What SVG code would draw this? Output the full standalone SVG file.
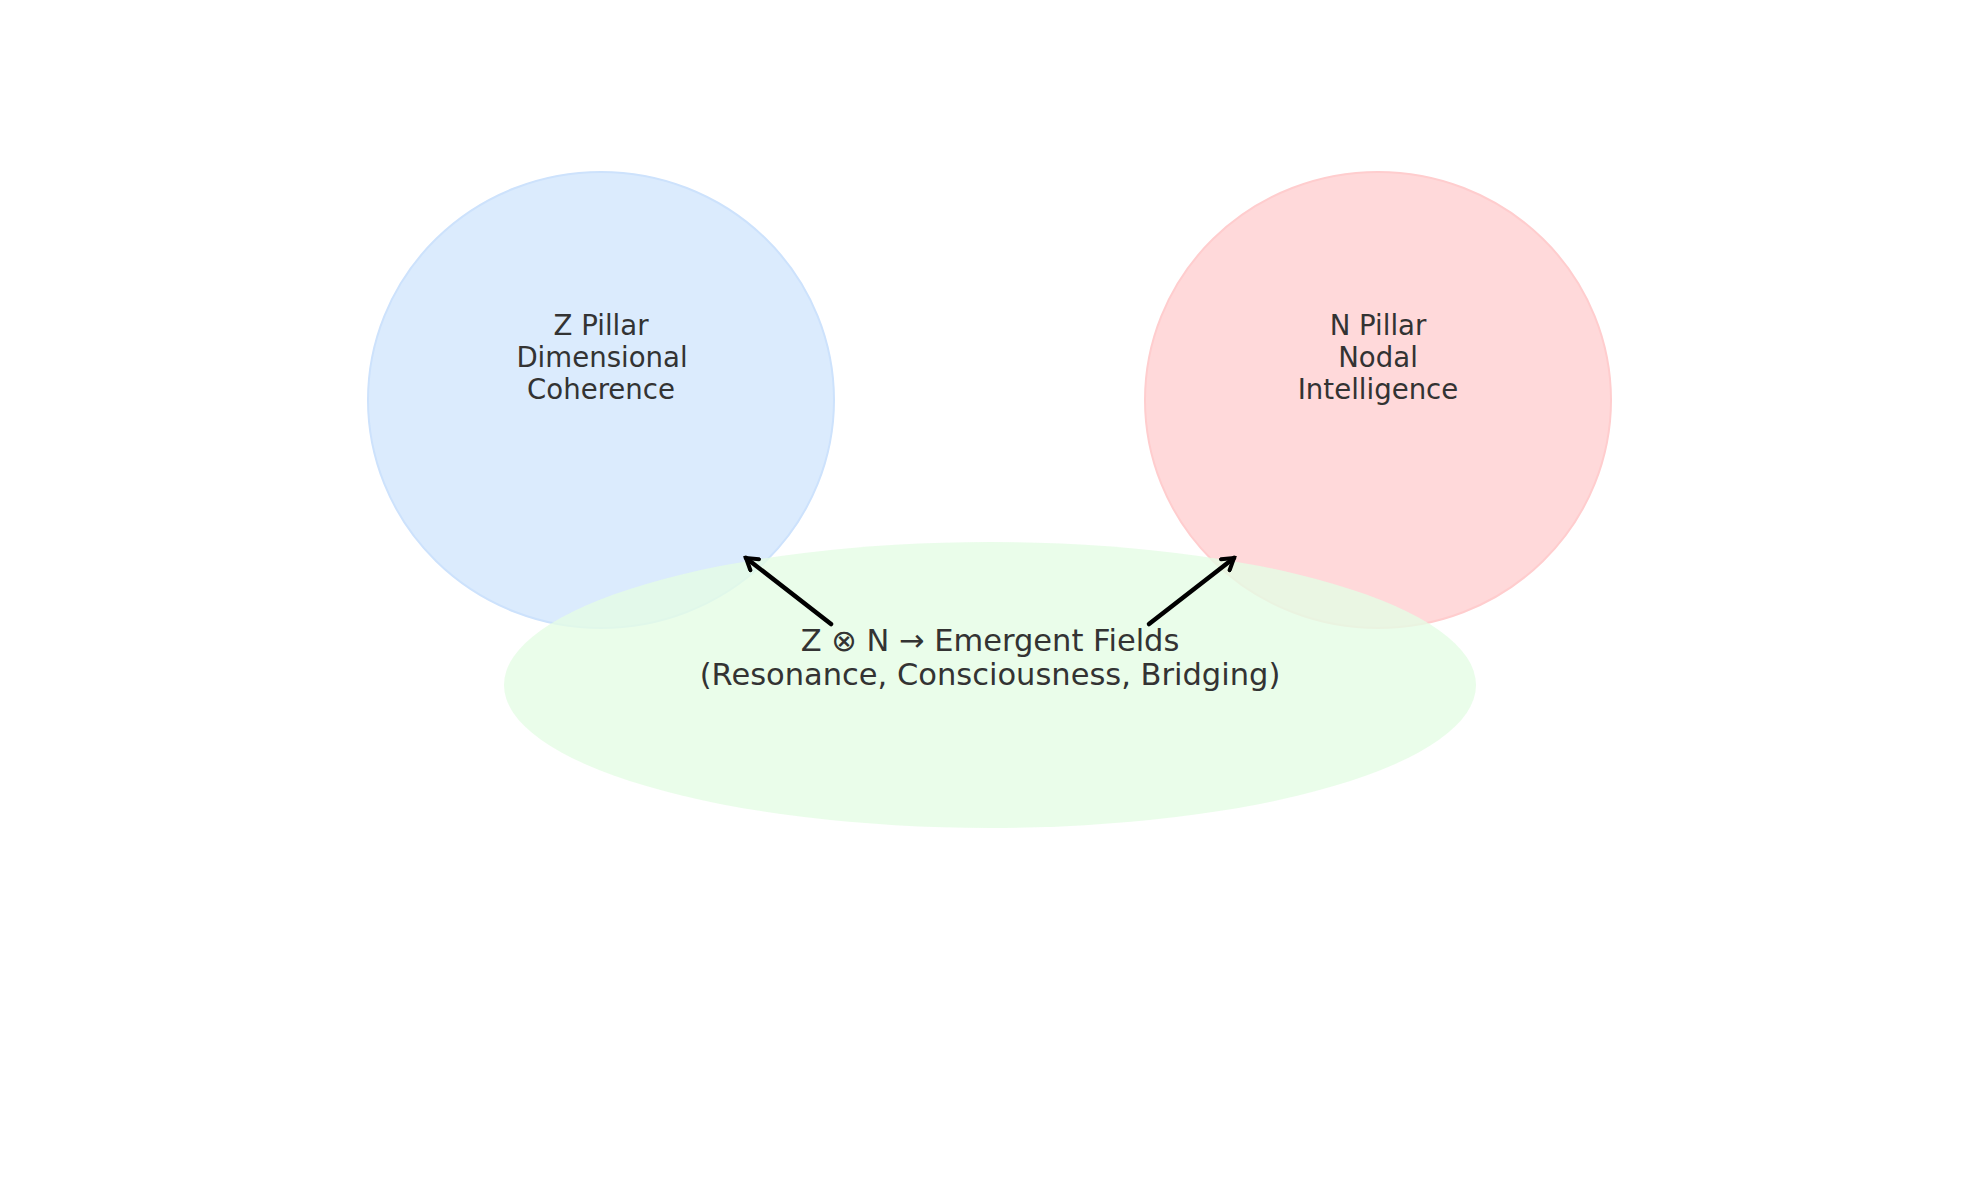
<svg xmlns="http://www.w3.org/2000/svg" width="1979" height="1180" viewBox="0 0 1979 1180">
<style>
.lbl{font-family:"DejaVu Sans",sans-serif;fill:#333333;text-anchor:middle}
.small{font-size:27.6px}
.big{font-size:30.5px}
.conn{stroke:#000;stroke-width:4.5;fill:none;stroke-linecap:round;stroke-linejoin:round}
</style>
<defs>
<marker id="head" viewBox="-13 -9 16 18" refX="0" refY="0" markerWidth="16" markerHeight="18" markerUnits="userSpaceOnUse" orient="auto">
<path d="M-11,-7 L0,0 L-11,7" fill="none" stroke="#000" stroke-width="4" stroke-linecap="round" stroke-linejoin="miter"/>
</marker>
</defs>
<rect width="1979" height="1180" fill="#ffffff"/>
<g id="z-pillar">
<ellipse cx="601" cy="400" rx="233" ry="228" fill="#dbebfd" stroke="#cde2fc" stroke-width="2"/>
<text class="lbl small" x="601" y="335">Z Pillar</text>
<text class="lbl small" x="602" y="367">Dimensional</text>
<text class="lbl small" x="601" y="399">Coherence</text>
</g>
<g id="n-pillar">
<ellipse cx="1378" cy="400" rx="233" ry="228" fill="#ffd9da" stroke="#ffcdce" stroke-width="2"/>
<text class="lbl small" x="1378" y="335">N Pillar</text>
<text class="lbl small" x="1378" y="367">Nodal</text>
<text class="lbl small" x="1378" y="399">Intelligence</text>
</g>
<g id="emergent">
<ellipse cx="990" cy="685" rx="486" ry="143" fill="rgb(229,253,229)" fill-opacity="0.8"/>
<text class="lbl big" x="990" y="651">Z ⊗ N → Emergent Fields</text>
<text class="lbl big" x="990" y="685">(Resonance, Consciousness, Bridging)</text>
</g>
<g id="connectors">
<line class="conn" x1="831" y1="624" x2="746" y2="558" marker-end="url(#head)"/>
<line class="conn" x1="1149" y1="624" x2="1234" y2="558" marker-end="url(#head)"/>
</g>
</svg>
